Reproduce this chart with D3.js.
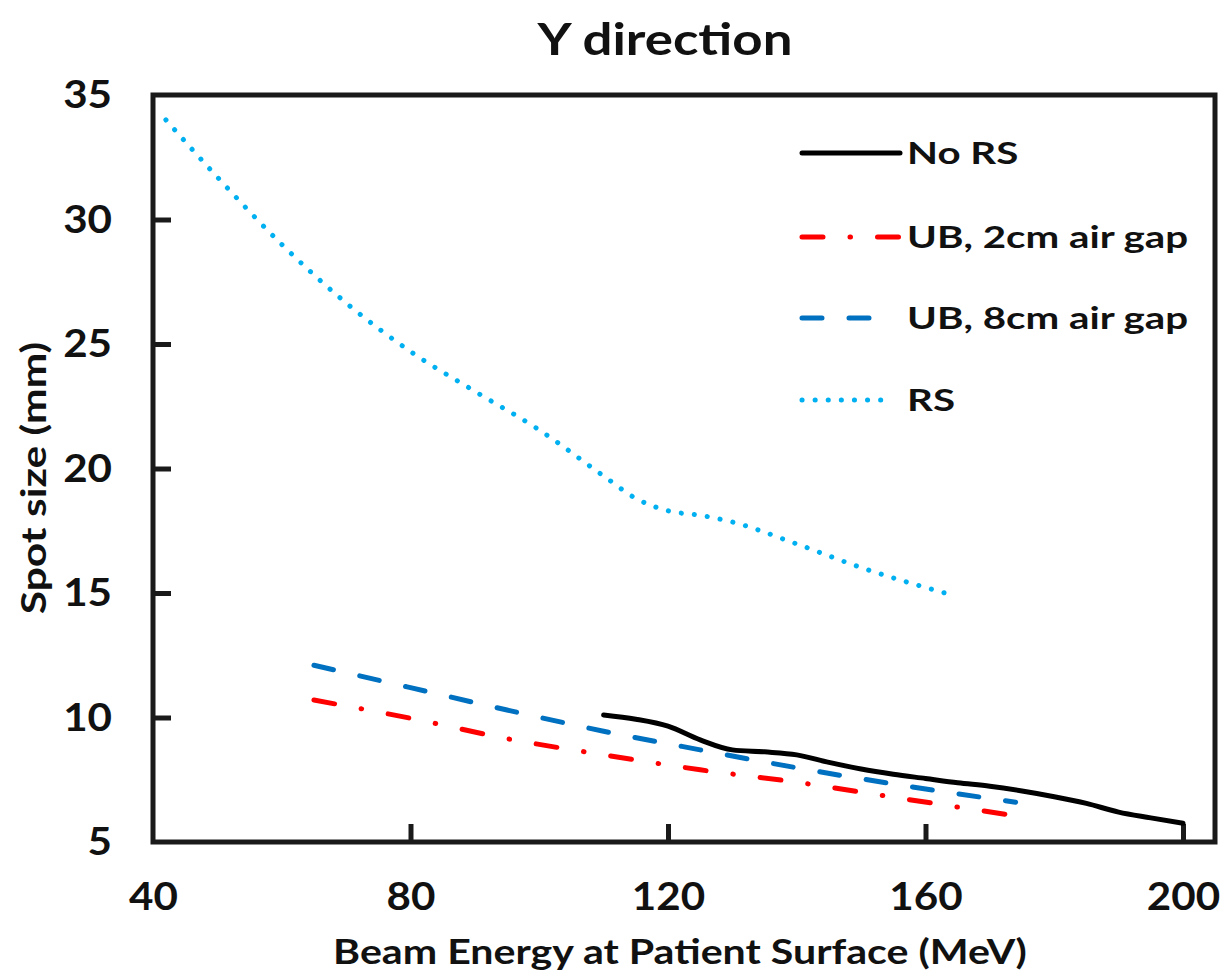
<!DOCTYPE html>
<html><head><meta charset="utf-8">
<script src="https://cdn.jsdelivr.net/npm/d3@7"></script>
<style>body{margin:0;background:#fff;} text{font-family:Lato,"Open Sans",sans-serif;font-weight:700;fill:#111;}</style>
</head><body>
<svg id="chart" width="1220" height="975"></svg>
<script>
const xTicks = [40, 80, 120, 160, 200];
const yTicks = [5, 10, 15, 20, 25, 30, 35];
const seriesNames = ["No RS", "UB, 2cm air gap", "UB, 8cm air gap", "RS"];

const noRsE = [110, 115, 120, 125, 130, 135, 140, 145, 150, 155, 160, 165, 170, 175, 180, 185, 190, 195, 200];
const noRsV = [10.1, 9.93, 9.65, 9.1, 8.7, 8.62, 8.5, 8.2, 7.93, 7.72, 7.55, 7.38, 7.24, 7.05, 6.82, 6.55, 6.2, 5.97, 5.75];

const ub2E = [65, 80, 95, 110, 125, 140, 155, 174];
const ub2V = [10.7, 9.97, 9.15, 8.5, 7.9, 7.4, 6.8, 6.05];

const ub8E = [65, 80, 95, 110, 125, 140, 155, 174];
const ub8V = [12.1, 11.2, 10.3, 9.45, 8.7, 7.98, 7.33, 6.6];

const rsE = [42, 50, 60, 70, 80, 90, 100, 110, 115, 120, 125, 130, 140, 150, 163];
const rsV = [34.0, 31.7, 29.0, 26.65, 24.7, 23.1, 21.55, 19.7, 18.8, 18.3, 18.12, 17.85, 16.97, 16.02, 15.0];

const svg = d3.select("#chart");
const mLeft = 153, mRight = 1215, mTop = 95, mBottom = 842;
const x = d3.scaleLinear().domain([40, 200]).range([mLeft, 1183]);
const y = d3.scaleLinear().domain([5, 35]).range([mBottom, mTop]);

const styles = [
  {color: "#000000", dash: null, cap: "round"},
  {color: "#FF0000", dash: "21,27,0.5,27", cap: "round"},
  {color: "#0070C0", dash: "20,27", cap: "round"},
  {color: "#00B0F0", dash: "0.1,13", cap: "round"}
];
const series = [
  d3.zip(noRsE, noRsV), d3.zip(ub2E, ub2V), d3.zip(ub8E, ub8V), d3.zip(rsE, rsV)
];

const line = d3.line().x(d => x(d[0])).y(d => y(d[1])).curve(d3.curveMonotoneX);

// horizontally stretched text (the reference figure is widened)
function sText(parent, tx, ty, sx, rot, size, anchor, txt) {
  return parent.append("text")
    .attr("transform", `translate(${tx},${ty})${rot ? ` rotate(${rot})` : ""} scale(${sx},1)`)
    .attr("text-anchor", anchor).attr("font-size", size).text(txt);
}

// frame
svg.append("rect").attr("x", mLeft).attr("y", mTop).attr("width", mRight - mLeft).attr("height", mBottom - mTop)
  .attr("fill", "none").attr("stroke", "#1a1a1a").attr("stroke-width", 5);

// axes (ticks inward)
const xAxis = d3.axisBottom(x).tickValues(xTicks).tickSize(-18).tickFormat(d3.format("d"));
const gx = svg.append("g").attr("transform", `translate(0,${mBottom})`).call(xAxis);
gx.select(".domain").remove();
gx.selectAll(".tick line").attr("stroke", "#1a1a1a").attr("stroke-width", 5);
gx.selectAll(".tick text").attr("font-size", 39).attr("y", 0).attr("dy", null)
  .attr("transform", "translate(0,68) scale(1.08,1)");
gx.selectAll(".tick").filter(d => d === 40).select("line").remove();

const yAxis = d3.axisLeft(y).tickValues(yTicks).tickSize(-18);
const gy = svg.append("g").attr("transform", `translate(${mLeft},0)`).call(yAxis);
gy.select(".domain").remove();
gy.selectAll(".tick line").attr("stroke", "#1a1a1a").attr("stroke-width", 5);
gy.selectAll(".tick text").attr("font-size", 39).attr("x", 0).attr("dy", "0.35em")
  .attr("transform", "translate(-41,-1) scale(1.08,1)");
gy.selectAll(".tick").filter(d => d === 5 || d === 35).select("line").remove();
svg.selectAll(".tick text").attr("fill", "#111");
gx.attr("font-family", null); gy.attr("font-family", null);

// series lines
series.forEach((s, i) => {
  svg.append("path").datum(s).attr("d", line).attr("fill", "none")
    .attr("stroke", styles[i].color).attr("stroke-width", 5)
    .attr("stroke-linecap", styles[i].cap).attr("stroke-linejoin", "round")
    .attr("stroke-dasharray", styles[i].dash);
});

// legend
const legY = [153, 237, 318, 400];
const legEnd = [900, 900, 878, 890];
seriesNames.forEach((n, i) => {
  svg.append("line").attr("x1", 802).attr("x2", legEnd[i]).attr("y1", legY[i]).attr("y2", legY[i])
    .attr("stroke", styles[i].color).attr("stroke-width", 5)
    .attr("stroke-linecap", styles[i].cap).attr("stroke-dasharray", styles[i].dash);
  sText(svg, 907, legY[i] + 11, 1.3, 0, 31, "start", n);
});

// titles
sText(svg, 665, 55, 1.2, 0, 44, "middle", "Y direction");
sText(svg, 680, 964, 1.21, 0, 34, "middle", "Beam Energy at Patient Surface (MeV)");
sText(svg, 46, 478, 1.25, -90, 34, "middle", "Spot size (mm)");
</script>
</body></html>
